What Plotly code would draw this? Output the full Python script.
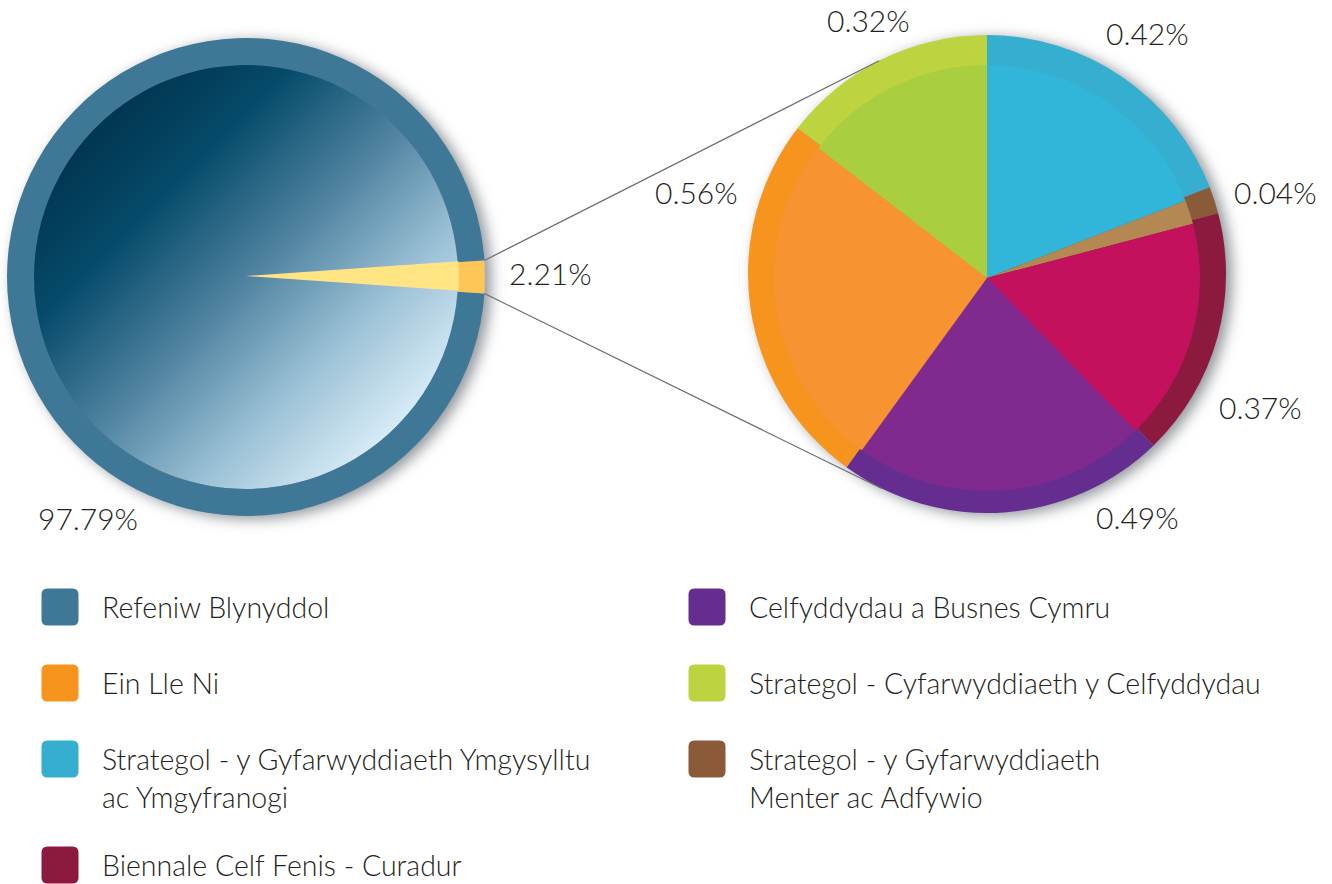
import base64
import math

import plotly.graph_objects as go

W, H = 1332, 884

# ---- data -------------------------------------------------------------
overview_labels = ["Refeniw Blynyddol", "Prosiectau"]
overview_values = [97.79, 2.21]

detail_labels = [
    "Strategol - y Gyfarwyddiaeth Ymgysylltu\nac Ymgyfranogi",
    "Strategol - y Gyfarwyddiaeth\nMenter ac Adfywio",
    "Biennale Celf Fenis - Curadur",
    "Celfyddydau a Busnes Cymru",
    "Ein Lle Ni",
    "Strategol - Cyfarwyddiaeth y Celfyddydau",
]
detail_values = [0.42, 0.04, 0.37, 0.49, 0.56, 0.32]

legend_left = [
    "Refeniw Blynyddol",
    "Ein Lle Ni",
    "Strategol - y Gyfarwyddiaeth Ymgysylltu\nac Ymgyfranogi",
    "Biennale Celf Fenis - Curadur",
]
legend_right = [
    "Celfyddydau a Busnes Cymru",
    "Strategol - Cyfarwyddiaeth y Celfyddydau",
    "Strategol - y Gyfarwyddiaeth\nMenter ac Adfywio",
]

# ---- styling ----------------------------------------------------------
RING = {
    "Refeniw Blynyddol": "#3e7896",
    "Prosiectau": "#fec558",
    detail_labels[0]: "#36aed0",
    detail_labels[1]: "#8b5a38",
    detail_labels[2]: "#8b1a3e",
    detail_labels[3]: "#662d91",
    detail_labels[4]: "#f7941d",
    detail_labels[5]: "#bdd340",
}
FILL = {
    "Refeniw Blynyddol": "rgba(0,0,0,0)",  # gradient image shows through
    "Prosiectau": "#ffe483",
    detail_labels[0]: "#31b5d8",
    detail_labels[1]: "#b38853",
    detail_labels[2]: "#c4115d",
    detail_labels[3]: "#802a8f",
    detail_labels[4]: "#f79431",
    detail_labels[5]: "#a9ce40",
}
TEXT_COLOR = "#231f20"
FONT = "Lato"

LEFT = {"cx": 246, "cy": 277, "r": 239, "icy": 276, "ir": 213}
RIGHT = {"cx": 987, "cy": 274, "r": 239, "icy": 278, "ir": 213}

# percentage label centres (px)
LEFT_LABEL_POS = [(88, 518), (550, 273)]
RIGHT_LABEL_POS = [(1147, 33), (1275, 192), (1260, 407), (1137, 517), (697, 192), (868, 20)]

LEGEND_X = [60, 707]
LEGEND_ROWS = [[607, 683, 759, 865], [607, 683, 759]]
LINE_STEP = 38
SWATCH = 37


def px(x):
    return x / W


def py(y):
    return 1 - y / H


def domain(cx, cy, r):
    return {"x": [px(cx - r), px(cx + r)], "y": [py(cy + r), py(cy - r)]}


def svg_uri(svg):
    return "data:image/svg+xml;base64," + base64.b64encode(svg.encode()).decode()


GRADIENT_SVG = svg_uri(
    '<svg xmlns="http://www.w3.org/2000/svg" width="200" height="200" viewBox="0 0 200 200">'
    '<defs><linearGradient id="g" x1="0.12" y1="0.12" x2="0.88" y2="0.88">'
    '<stop offset="0" stop-color="#00314d"/>'
    '<stop offset="0.25" stop-color="#064b6a"/>'
    '<stop offset="0.5" stop-color="#4d819f"/>'
    '<stop offset="0.75" stop-color="#9cc1d6"/>'
    '<stop offset="1" stop-color="#e0f2fb"/>'
    "</linearGradient></defs>"
    '<circle cx="100" cy="100" r="100" fill="url(#g)"/></svg>'
)

SHADOW_M = 30
SHADOW_SVG = svg_uri(
    '<svg xmlns="http://www.w3.org/2000/svg" width="300" height="300" viewBox="0 0 300 300">'
    '<defs><filter id="b" x="-20%" y="-20%" width="140%" height="140%">'
    '<feGaussianBlur stdDeviation="4"/></filter></defs>'
    '<circle cx="150" cy="150" r="{r}" fill="#6b7278" fill-opacity="0.75" filter="url(#b)"/></svg>'.format(
        r=300 * 239 / (2 * 239 + 2 * SHADOW_M)
    )
)

# left pie: put the small slice centred at 3 o'clock
left_rotation = 90 + 180 * overview_values[1] / sum(overview_values)

fig = go.Figure()

common = dict(
    sort=False,
    direction="clockwise",
    textinfo="none",
    hoverinfo="label+percent",
    showlegend=False,
)

fig.add_trace(
    go.Pie(
        labels=overview_labels,
        values=overview_values,
        marker={"colors": [RING[l] for l in overview_labels], "line": {"width": 0}},
        hole=(LEFT["ir"] - 1) / LEFT["r"],
        rotation=left_rotation,
        domain=domain(LEFT["cx"], LEFT["cy"], LEFT["r"]),
        **common,
    )
)
fig.add_trace(
    go.Pie(
        labels=overview_labels,
        values=overview_values,
        marker={"colors": [FILL[l] for l in overview_labels], "line": {"width": 0}},
        rotation=left_rotation,
        domain=domain(LEFT["cx"], LEFT["icy"], LEFT["ir"]),
        **common,
    )
)
fig.add_trace(
    go.Pie(
        labels=detail_labels,
        values=detail_values,
        marker={"colors": [RING[l] for l in detail_labels], "line": {"width": 0}},
        rotation=0,
        domain=domain(RIGHT["cx"], RIGHT["cy"], RIGHT["r"]),
        **common,
    )
)
fig.add_trace(
    go.Pie(
        labels=detail_labels,
        values=detail_values,
        marker={"colors": [FILL[l] for l in detail_labels], "line": {"width": 0}},
        rotation=0,
        domain=domain(RIGHT["cx"], RIGHT["icy"], RIGHT["ir"]),
        **common,
    )
)

images = []
for p in (LEFT, RIGHT):
    s = 2 * p["r"] + 2 * SHADOW_M
    images.append(
        dict(
            source=SHADOW_SVG, xref="paper", yref="paper",
            x=px(p["cx"] - p["r"] - SHADOW_M + 6), y=py(p["cy"] - p["r"] - SHADOW_M + 3),
            sizex=s / W, sizey=s / H, xanchor="left", yanchor="top",
            sizing="stretch", layer="below",
        )
    )
images.append(
    dict(
        source=GRADIENT_SVG, xref="paper", yref="paper",
        x=px(LEFT["cx"] - LEFT["ir"]), y=py(LEFT["icy"] - LEFT["ir"]),
        sizex=2 * LEFT["ir"] / W, sizey=2 * LEFT["ir"] / H,
        xanchor="left", yanchor="top", sizing="stretch", layer="below",
    )
)

# connector lines: from the small slice's outer corners, tangent to the right pie
shapes = []
share = overview_values[1] / sum(overview_values) * 360
for edge, side in ((left_rotation - share, -1), (left_rotation, 1)):
    a = math.radians(edge)
    x0 = LEFT["cx"] + LEFT["r"] * math.sin(a)
    y0 = LEFT["cy"] - LEFT["r"] * math.cos(a)
    dx, dy = x0 - RIGHT["cx"], y0 - RIGHT["cy"]
    d = math.hypot(dx, dy)
    phi = math.atan2(dy, dx)
    alpha = math.acos(RIGHT["r"] / d)
    t = phi - side * alpha
    x1 = RIGHT["cx"] + RIGHT["r"] * math.cos(t)
    y1 = RIGHT["cy"] + RIGHT["r"] * math.sin(t)
    shapes.append(
        dict(type="line", xref="paper", yref="paper", x0=px(x0), y0=py(y0),
             x1=px(x1), y1=py(y1), line={"color": "#6d6e71", "width": 1.2})
    )

annotations = []
label_font = {"family": FONT, "size": 30, "color": TEXT_COLOR, "weight": 300}
for vals, positions in ((overview_values, LEFT_LABEL_POS), (detail_values, RIGHT_LABEL_POS)):
    for v, (x, y) in zip(vals, positions):
        annotations.append(
            dict(text=f"{v:.2f}%", x=px(x), y=py(y), xref="paper", yref="paper",
                 showarrow=False, xanchor="center", yanchor="middle", font=label_font)
        )

# legend: rounded swatches + text
legend_font = {"family": FONT, "size": 28.5, "color": TEXT_COLOR, "weight": 300}
rad = 6
for col, items in enumerate((legend_left, legend_right)):
    for row, label in enumerate(items):
        cx, cy = LEGEND_X[col], LEGEND_ROWS[col][row]
        l, r_, t, b = cx - SWATCH / 2, cx + SWATCH / 2, cy - SWATCH / 2, cy + SWATCH / 2
        path = (
            f"M {px(l + rad)},{py(t)} L {px(r_ - rad)},{py(t)} "
            f"Q {px(r_)},{py(t)} {px(r_)},{py(t + rad)} L {px(r_)},{py(b - rad)} "
            f"Q {px(r_)},{py(b)} {px(r_ - rad)},{py(b)} L {px(l + rad)},{py(b)} "
            f"Q {px(l)},{py(b)} {px(l)},{py(b - rad)} L {px(l)},{py(t + rad)} "
            f"Q {px(l)},{py(t)} {px(l + rad)},{py(t)} Z"
        )
        shapes.append(dict(type="path", xref="paper", yref="paper", path=path,
                           fillcolor=RING[label], line={"width": 0}))
        for i, line in enumerate(label.split("\n")):
            annotations.append(
                dict(text=line, x=px(cx + 40), y=py(cy + i * LINE_STEP), xref="paper", yref="paper",
                     showarrow=False, xanchor="left", yanchor="middle", font=legend_font)
            )

fig.update_layout(
    width=W,
    height=H,
    margin={"l": 0, "r": 0, "t": 0, "b": 0},
    paper_bgcolor="white",
    plot_bgcolor="white",
    images=images,
    shapes=shapes,
    annotations=annotations,
    showlegend=False,
)

# drop the browser's default body margin so the figure sits at the page origin
fig.write_html(
    "out.html",
    config={"displayModeBar": False},
    post_script="document.body.style.margin = '0';",
)
